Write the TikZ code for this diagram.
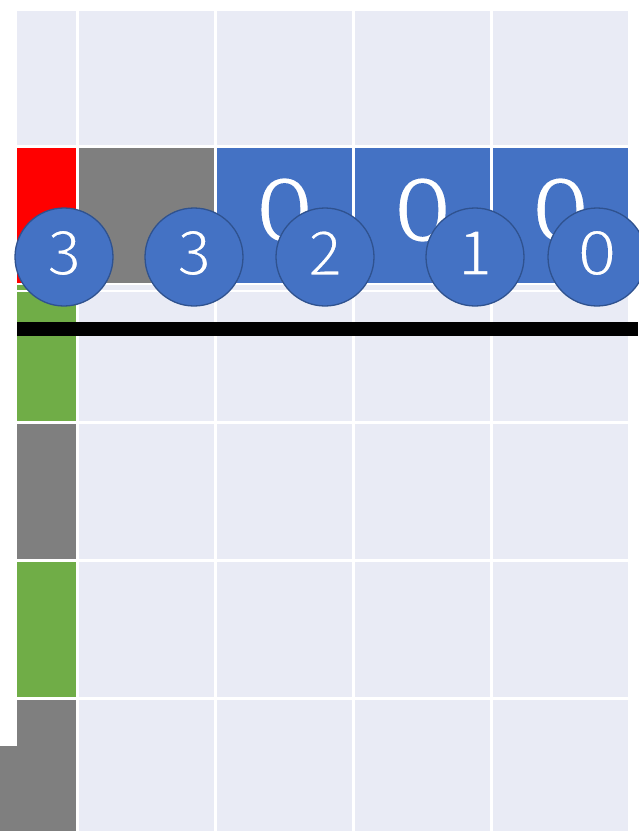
\documentclass[tikz,border=0pt]{standalone}
\usepackage{fontspec}
\newfontfamily\jpfont{Noto Sans CJK JP}
\definecolor{lightcell}{HTML}{E9EBF5}
\definecolor{blucell}{HTML}{4472C4}
\definecolor{grycell}{HTML}{7F7F7F}
\definecolor{grncell}{HTML}{70AD47}
\definecolor{redcell}{HTML}{FF0000}
\definecolor{circedge}{HTML}{2F528F}
% thin the glyphs: fill white, then stroke in the background blue
\newcommand{\thindigit}[1]{\special{pdf:literal direct 2 Tr 1.6 w 0.267 0.447 0.769 RG}#1\special{pdf:literal direct 0 Tr}}
\tikzset{
  bigzero/.style={text=white, font=\jpfont\fontsize{88}{88}\selectfont, inner sep=0pt},
  counter/.style={circle, fill=blucell, draw=circedge, line width=1.3pt, minimum size=98pt, inner sep=0pt},
  countertext/.style={text=white, font=\jpfont\fontsize{62}{62}\selectfont, inner sep=0pt},
}
\begin{document}
\begin{tikzpicture}[x=1pt,y=-1pt]
\useasboundingbox (0,0) rectangle (638,831);
\fill[white] (0,0) rectangle (638,831);
% light grid cells (columns 2-5)
\foreach \xa/\xb in {79/214,217/352,355/490,493/628}{
  \foreach \ya/\yb in {11/145,285/421,424/559,562/697,700/831}{
    \fill[lightcell] (\xa,\ya) rectangle (\xb,\yb);
  }
}
\fill[lightcell] (17,11) rectangle (76,145);
% row 2
\fill[redcell] (17,148) rectangle (76,283);
\fill[grycell] (79,148) rectangle (214,283);
\fill[blucell] (217,148) rectangle (352,283);
\fill[blucell] (355,148) rectangle (490,283);
\fill[blucell] (493,148) rectangle (628,283);
% column 1
\fill[grncell] (17,285) rectangle (76,421);
\fill[grycell] (17,424) rectangle (76,559);
\fill[grncell] (17,562) rectangle (76,697);
\fill[grycell] (17,700) rectangle (76,831);
\fill[grycell] (0,746) rectangle (76,831);
% thin white line of the shifted row
\draw[white, line width=2pt] (17,291) -- (628,291);
% black bar
\fill[black] (17,322) rectangle (638,336);
% zeros
\node[bigzero] (z1) at (284.5,210) {\scalebox{1.2}[1]{\thindigit{0}}};
\node[bigzero] (z2) at (422.5,210) {\scalebox{1.2}[1]{\thindigit{0}}};
\node[bigzero] (z3) at (560.5,210) {\scalebox{1.2}[1]{\thindigit{0}}};
% counters
\node[counter] (c1) at (64,257) {};
\node[counter] (c2) at (194,257) {};
\node[counter] (c3) at (325,257) {};
\node[counter] (c4) at (475,257) {};
\node[counter] (c5) at (597,257) {};
\node[countertext] (t1) at ([yshift=4pt]c1.center) {\thindigit{3}};
\node[countertext] (t2) at ([yshift=4pt]c2.center) {\thindigit{3}};
\node[countertext] (t3) at ([yshift=4pt]c3.center) {\thindigit{2}};
\node[countertext] (t4) at ([yshift=4pt]c4.center) {\thindigit{1}};
\node[countertext] (t5) at ([yshift=4pt]c5.center) {\scalebox{1.15}[1]{\thindigit{0}}};
\end{tikzpicture}
\end{document}
